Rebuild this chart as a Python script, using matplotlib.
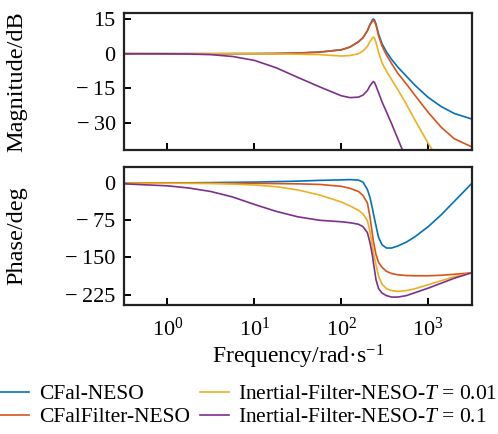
import matplotlib
matplotlib.use("Agg")
import matplotlib.pyplot as plt

plt.rcParams['font.family'] = ['Liberation Serif', 'DejaVu Serif']
plt.rcParams['mathtext.fontset'] = 'custom'
plt.rcParams['mathtext.rm'] = 'Liberation Serif'
plt.rcParams['mathtext.it'] = 'Liberation Serif:italic'

# Frequency (rad/s)
freq = [0.316, 1.0, 1.78, 3.16, 5.62, 10.0, 17.8, 31.6, 56.2, 100, 126, 158, 178, 200, 214,
        229, 234, 240, 251, 269, 295, 331, 380, 447, 562, 708, 1000, 1413, 1995, 3162]

# Magnitude (dB)
mag_cfal = [0, 0, 0, 0, 0.02, 0.05, 0.1, 0.3, 0.7, 1.7, 2.9, 5.2, 7.0, 10.0, 12.7, 14.8, 15.1,
            14.8, 13.0, 8.5, 4.3, 0.8, -2.5, -5.8, -9.8, -13.8, -19.0, -23.0, -26.0, -28.4]
mag_cfalf = [0, 0, 0, 0, 0.02, 0.05, 0.1, 0.3, 0.7, 1.7, 2.9, 5.2, 7.0, 10.0, 12.5, 14.3, 14.5,
             14.2, 12.4, 7.8, 3.3, -0.5, -4.3, -8.5, -13.2, -18.2, -25.5, -32.0, -37.0, -40.5]
mag_t001 = [0, 0, 0, -0.02, -0.03, -0.05, -0.1, -0.2, -0.4, -1.0, -0.8, 0.0, 1.2, 3.2, 5.3, 6.9,
            7.2, 6.9, 5.0, 0.5, -4.0, -7.6, -11.3, -15.6, -22.0, -29.0, -39.0, -48.0, -56.0, -66.0]
mag_t01 = [0, -0.04, -0.13, -0.4, -1.2, -2.9, -6.1, -10.3, -14.4, -18.3, -19.1, -18.9, -18.0,
           -16.0, -14.0, -12.5, -12.1, -12.4, -14.0, -17.0, -21.0, -25.3, -30.5, -37.0, -46.0,
           -54.0, -65.0, -75.0, -84.0, -96.0]

# Phase (deg)
ph_cfal = [0, 0.3, 0.6, 1, 1.5, 2, 3, 4, 5.5, 6.5, 7, 6, 2, -13, -29, -52, -61, -70, -86, -110,
           -124.5, -131, -131, -127, -119, -108, -88, -64, -37, -1]
ph_cfalf = [0, 0, -0.1, -0.2, -0.3, -0.5, -1, -1.5, -2.7, -6.5, -10.5, -17, -25, -40, -68, -105,
            -117, -127, -144, -160, -170, -178, -182.5, -185, -186.5, -187, -187, -186, -184, -181]
ph_t001 = [0, -0.3, -0.5, -0.9, -2.0, -3.8, -7.2, -13.8, -24, -38, -46, -55, -62, -76, -98, -128,
           -139, -149, -165, -188, -204, -213, -217, -218.5, -217, -213, -205, -197, -189, -181]
ph_t01 = [-1.5, -5.5, -10, -17, -28, -43, -57, -68, -75, -78, -80, -83, -88, -100, -120, -147,
          -160, -172, -195, -213, -222, -227, -230, -230, -227, -221, -212, -202, -192, -181]

labels = ['CFal-NESO', 'CFalFilter-NESO',
          'Inertial-Filter-NESO-$\\it{T}$ = 0.01', 'Inertial-Filter-NESO-$\\it{T}$ = 0.1']
colors = ['#0072BD', '#D95319', '#EDB120', '#7E2F8E']

mags = [mag_cfal, mag_cfalf, mag_t001, mag_t01]
phs = [ph_cfal, ph_cfalf, ph_t001, ph_t01]

fig = plt.figure(figsize=(4.98, 4.34), dpi=100)
ax1 = fig.add_axes([0.249, 0.6544, 0.698, 0.315])
ax2 = fig.add_axes([0.249, 0.298, 0.698, 0.317])

lines = []
for m, p, c, l in zip(mags, phs, colors, labels):
    ln, = ax1.plot(freq, m, color=c, lw=1.2, label=l)
    ax2.plot(freq, p, color=c, lw=1.2)
    lines.append(ln)

fs = 16
for ax in (ax1, ax2):
    ax.set_xscale('log')
    ax.set_xlim(10**-0.5, 10**3.5)
    ax.minorticks_off()
    ax.set_xticks([1, 10, 100, 1000])
    for s in ax.spines.values():
        s.set_linewidth(1.6)
        s.set_color('#222222')
    ax.tick_params(direction='in', length=5, width=1.4, labelsize=fs, top=False, right=False)
    ax.tick_params(axis='y', pad=6)
    ax.tick_params(axis='x', pad=9)
    ax.tick_params(axis='x', which='minor', bottom=False)

def fmt(v):
    return ('\u2212\u2009' + str(abs(int(v)))) if v < 0 else str(int(v))

ax1.set_ylim(-41.9, 17.6)
ax1.set_yticks([15, 0, -15, -30])
ax1.set_yticklabels([fmt(v) for v in [15, 0, -15, -30]])
ax1.set_xticklabels([])

ax2.set_ylim(-245.3, 32.3)
ax2.set_yticks([0, -75, -150, -225])
ax2.set_yticklabels([fmt(v) for v in [0, -75, -150, -225]])
ax2.set_xticklabels(['10$^{0}$', '10$^{1}$', '10$^{2}$', '10$^{3}$'])

ax1.set_ylabel('Magnitude/dB', fontsize=17.5)
ax2.set_ylabel('Phase/deg', fontsize=17.5)
ax1.yaxis.set_label_coords(-0.278, 0.5)
ax2.yaxis.set_label_coords(-0.278, 0.5)
ax2.set_xlabel('Frequency/rad\u00b7s$^{-1}$', fontsize=17, labelpad=2)

fig.legend(lines, labels, loc='lower center', bbox_to_anchor=(0.5, -0.004), ncol=2,
           frameon=False, fontsize=15.5, handlelength=1.35, handletextpad=0.45,
           columnspacing=0.45, labelspacing=0.12, borderaxespad=0.0)

fig.savefig('out.png', dpi=100)
